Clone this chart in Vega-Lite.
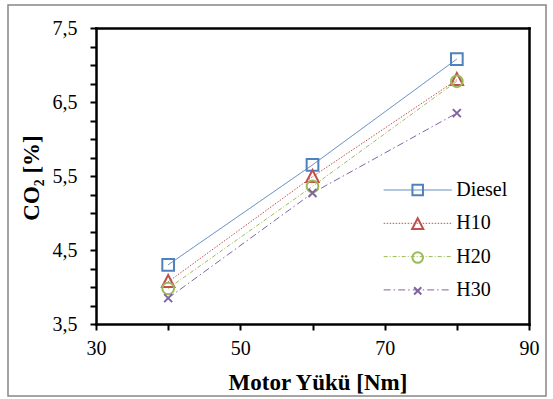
{
  "$schema": "https://vega.github.io/schema/vega-lite/v6.json",
  "width": 538,
  "height": 391,
  "autosize": {"type": "none"},
  "padding": {"left": 8, "top": 5, "right": 7, "bottom": 3},
  "background": "white",
  "config": {
    "font": "Liberation Serif",
    "view": {"stroke": "#878787", "strokeWidth": 1.5},
    "axis": {
      "grid": false,
      "domainColor": "black",
      "tickColor": "black",
      "labelColor": "black",
      "titleColor": "black",
      "domainWidth": 2.5,
      "tickWidth": 2,
      "domainCap": "square",
      "labelFlush": false,
      "labelOverlap": false,
      "labelFont": "Liberation Serif",
      "titleFont": "Liberation Serif"
    },
    "legend": {"labelFont": "Liberation Serif", "labelColor": "black"}
  },
  "data": {
    "values": [
      {"series": "Diesel", "load": 40, "co2": 4.30},
      {"series": "Diesel", "load": 60, "co2": 5.65},
      {"series": "Diesel", "load": 80, "co2": 7.08},
      {"series": "H10", "load": 40, "co2": 4.07},
      {"series": "H10", "load": 60, "co2": 5.49},
      {"series": "H10", "load": 80, "co2": 6.80},
      {"series": "H20", "load": 40, "co2": 3.98},
      {"series": "H20", "load": 60, "co2": 5.36},
      {"series": "H20", "load": 80, "co2": 6.78},
      {"series": "H30", "load": 40, "co2": 3.85},
      {"series": "H30", "load": 60, "co2": 5.27},
      {"series": "H30", "load": 80, "co2": 6.35}
    ]
  },
  "resolve": {"axis": {"x": "independent", "y": "independent"}},
  "layer": [
    {
      "mark": {"type": "line", "strokeWidth": 1},
      "encoding": {
        "x": {
          "field": "load",
          "type": "quantitative",
          "scale": {"domain": [30, 90], "range": [88, 521], "nice": false, "zero": false},
          "axis": {
            "orient": "bottom",
            "offset": -72,
            "values": [30, 40, 50, 60, 70, 80, 90],
            "labelExpr": "datum.value % 20 == 10 ? datum.label : ''",
            "tickSize": 6,
            "labelPadding": 8,
            "labelFontSize": 20,
            "title": "Motor Yükü [Nm]",
            "titleFontSize": 23,
            "titleFontWeight": "bold",
            "titleX": 309.5,
            "titleY": 65.3,
            "titleBaseline": "alphabetic"
          }
        },
        "y": {
          "field": "co2",
          "type": "quantitative",
          "scale": {"domain": [3.5, 7.5], "range": [319, 23], "nice": false, "zero": false},
          "axis": {
            "orient": "left",
            "offset": -88,
            "values": [3.5, 3.75, 4, 4.25, 4.5, 4.75, 5, 5.25, 5.5, 5.75, 6, 6.25, 6.5, 6.75, 7, 7.25, 7.5],
            "labelExpr": "(datum.value * 4) % 4 == 2 ? replace(format(datum.value, '.1f'), '.', ',') : ''",
            "tickSize": 6,
            "labelPadding": 13,
            "labelFontSize": 20,
            "title": "CO₂ [%]",
            "titleFontSize": 23,
            "titleFontWeight": "bold",
            "titleX": -57.7,
            "titleY": 172.5,
            "titleBaseline": "alphabetic"
          }
        },
        "stroke": {
          "field": "series",
          "type": "nominal",
          "scale": {
            "domain": ["Diesel", "H10", "H20", "H30"],
            "range": ["#4F81BD", "#C0504D", "#9BBB59", "#8064A2"]
          },
          "legend": {
            "orient": "none",
            "legendX": 399.7,
            "legendY": 175,
            "title": null,
            "padding": 0,
            "symbolOffset": 0,
            "symbolType": "M-37.8,0H37.8",
            "symbolSize": 3.24,
            "symbolStrokeWidth": 1,
            "labelFont": "Liberation Serif",
            "labelFontSize": 20,
            "labelColor": "black",
            "labelOffset": 28.5,
            "rowPadding": 13.3
          }
        },
        "strokeDash": {
          "field": "series",
          "type": "nominal",
          "scale": {
            "domain": ["Diesel", "H10", "H20", "H30"],
            "range": [[1, 0], [1.5, 1.5], [4, 2, 1, 2], [7, 3, 1.5, 3]]
          }
        }
      }
    },
    {
      "mark": {"type": "point", "filled": false, "strokeWidth": 2, "size": 4, "opacity": 1},
      "encoding": {
        "x": {
          "field": "load",
          "type": "quantitative",
          "axis": {"orient": "top", "offset": -23, "ticks": false, "labels": false, "title": null}
        },
        "y": {
          "field": "co2",
          "type": "quantitative",
          "axis": {"orient": "right", "offset": -17, "ticks": false, "labels": false, "title": null}
        },
        "color": {
          "field": "series",
          "type": "nominal",
          "scale": {"range": ["#4F81BD", "#C0504D", "#9BBB59", "#8064A2"]},
          "legend": {
            "orient": "none",
            "legendX": 399.7,
            "legendY": 175,
            "title": null,
            "padding": 0,
            "symbolOffset": 0,
            "symbolSize": 3.24,
            "symbolStrokeWidth": 2,
            "labelFont": "Liberation Serif",
            "labelFontSize": 20,
            "labelOpacity": 0,
            "labelOffset": 28.5,
            "rowPadding": 13.3
          }
        },
        "shape": {
          "field": "series",
          "type": "nominal",
          "scale": {
            "range": [
              "M-5.85,-5.85H5.85V5.85H-5.85Z",
              "M0,-6.8L6.2,5.2L-6.2,5.2Z",
              "M-5.85,0A5.85,5.85,0,1,1,5.85,0A5.85,5.85,0,1,1,-5.85,0Z",
              "M-4,-4L4,4M4,-4L-4,4"
            ]
          }
        }
      }
    }
  ]
}
